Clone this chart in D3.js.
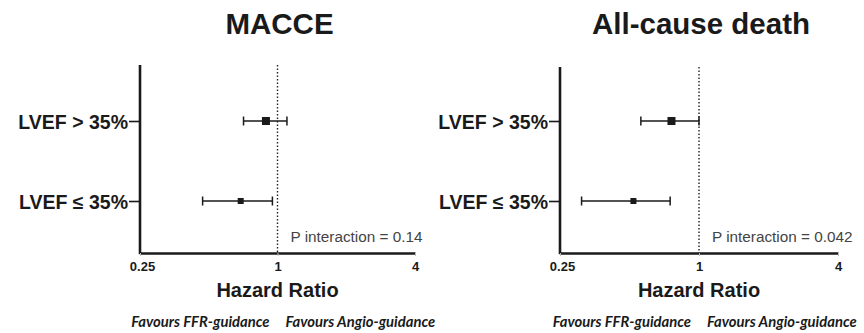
<!DOCTYPE html>
<html>
<head>
<meta charset="utf-8">
<script src="https://cdn.jsdelivr.net/npm/d3@7"></script>
<style>
  body { margin: 0; background: #fff; }
  svg { display: block; }
</style>
</head>
<body>
<svg id="chart" width="864" height="333"></svg>
<script>
// forest plots, hazard ratio on log2 axis

const subgroups = ['LVEF > 35%', 'LVEF ≤ 35%'];
const titles = ['MACCE', 'All-cause death'];
const pValues = ['P interaction = 0.14', 'P interaction = 0.042'];
const xTicks = [0.25, 1, 4];
const xTickLabels = ['0.25', '1', '4'];

// hazard ratio and 95% CI, one array per panel (rows in subgroup order)
const maccHR = [0.89, 0.69];
const maccLo = [0.71, 0.47];
const maccHi = [1.10, 0.95];
const deathHR = [0.76, 0.52];
const deathLo = [0.56, 0.31];
const deathHi = [1.00, 0.75];

// marker size follows the subgroup weight
const boxSize = [8, 6];

const panels = [
  { title: titles[0], p: pValues[0], hr: maccHR, lo: maccLo, hi: maccHi, x0: 140, x1: 415, top: 65 },
  { title: titles[1], p: pValues[1], hr: deathHR, lo: deathLo, hi: deathHi, x0: 560, x1: 838, top: 67 },
];

const svg = d3.select('#chart');
const bottom = 253;

panels.forEach((p) => {
  const x = d3.scaleLog().base(2).domain([0.25, 4]).range([p.x0, p.x1]);
  const y = d3.scalePoint().domain(subgroups).range([121, 201]);

  const g = svg.append('g');

  // title
  g.append('text')
    .attr('x', x(1) + 2)
    .attr('y', 34)
    .attr('text-anchor', 'middle')
    .style('font', 'bold 29.5px "Liberation Sans", Arial, sans-serif')
    .attr('fill', '#1a1a1a')
    .text(p.title);

  // reference line at HR = 1
  g.append('line')
    .attr('x1', x(1)).attr('x2', x(1))
    .attr('y1', p.top).attr('y2', bottom)
    .attr('stroke', '#222')
    .attr('stroke-width', 1.4)
    .attr('stroke-dasharray', '1.5,2');

  // y axis
  const yAxis = g.append('g')
    .attr('transform', `translate(${p.x0},0)`)
    .call(d3.axisLeft(y).tickSize(11).tickSizeOuter(0).tickPadding(1));
  yAxis.select('.domain').remove();
  yAxis.append('line')
    .attr('x1', 0).attr('x2', 0)
    .attr('y1', p.top).attr('y2', bottom + 1.2)
    .attr('stroke', '#1a1a1a')
    .attr('stroke-width', 2.6);
  yAxis.selectAll('.tick line').attr('stroke', '#1a1a1a').attr('stroke-width', 1.6);
  yAxis.selectAll('.tick text')
    .attr('fill', '#1a1a1a')
    .attr('dy', '0.36em')
    .style('font', 'bold 19.5px "Liberation Sans", Arial, sans-serif');

  // x axis
  const xAxis = g.append('g')
    .attr('transform', `translate(0,${bottom})`)
    .call(d3.axisBottom(x).tickValues(xTicks)
      .tickFormat((d, i) => xTickLabels[i])
      .tickSize(3).tickSizeOuter(0).tickPadding(6));
  xAxis.select('.domain')
    .attr('stroke', '#1a1a1a')
    .attr('stroke-width', 2.6);
  xAxis.selectAll('.tick line').attr('stroke', '#bbb').attr('stroke-width', 1);
  xAxis.selectAll('.tick text')
    .attr('fill', '#1a1a1a')
    .style('font', 'bold 13px "Liberation Sans", Arial, sans-serif')
    .attr('dx', (d) => (d === 0.25 ? 2 : 0));

  g.append('text')
    .attr('x', x(1))
    .attr('y', 297)
    .attr('text-anchor', 'middle')
    .style('font', 'bold 20px "Liberation Sans", Arial, sans-serif')
    .attr('fill', '#1a1a1a')
    .text('Hazard Ratio');

  // favours labels
  g.append('text')
    .attr('x', x(1) - 8)
    .attr('y', 327)
    .attr('text-anchor', 'end')
    .style('font', 'italic bold 14.8px Lato, sans-serif')
    .attr('fill', '#1a1a1a')
    .text('Favours FFR-guidance');
  g.append('text')
    .attr('x', x(1) + 8)
    .attr('y', 327)
    .attr('text-anchor', 'start')
    .style('font', 'italic bold 14.8px Lato, sans-serif')
    .attr('fill', '#1a1a1a')
    .text('Favours Angio-guidance');

  // p interaction
  g.append('text')
    .attr('x', x(1) + 13)
    .attr('y', 242)
    .style('font', '15.3px "Liberation Sans", Arial, sans-serif')
    .attr('fill', '#444')
    .text(p.p);

  // error bars and boxes
  const rows = g.selectAll('.row')
    .data(subgroups)
    .join('g')
    .attr('class', 'row');

  rows.append('line')
    .attr('x1', (d, i) => x(p.lo[i]))
    .attr('x2', (d, i) => x(p.hi[i]))
    .attr('y1', (d) => y(d)).attr('y2', (d) => y(d))
    .attr('stroke', '#1a1a1a').attr('stroke-width', 1.5);

  [p.lo, p.hi].forEach((arr) => {
    rows.append('line')
      .attr('x1', (d, i) => x(arr[i]))
      .attr('x2', (d, i) => x(arr[i]))
      .attr('y1', (d) => y(d) - 4.5).attr('y2', (d) => y(d) + 4.5)
      .attr('stroke', '#1a1a1a').attr('stroke-width', 1.5);
  });

  rows.append('rect')
    .attr('x', (d, i) => x(p.hr[i]) - boxSize[i] / 2)
    .attr('y', (d, i) => y(d) - boxSize[i] / 2)
    .attr('width', (d, i) => boxSize[i])
    .attr('height', (d, i) => boxSize[i])
    .attr('fill', '#1a1a1a');
});
</script>
</body>
</html>
